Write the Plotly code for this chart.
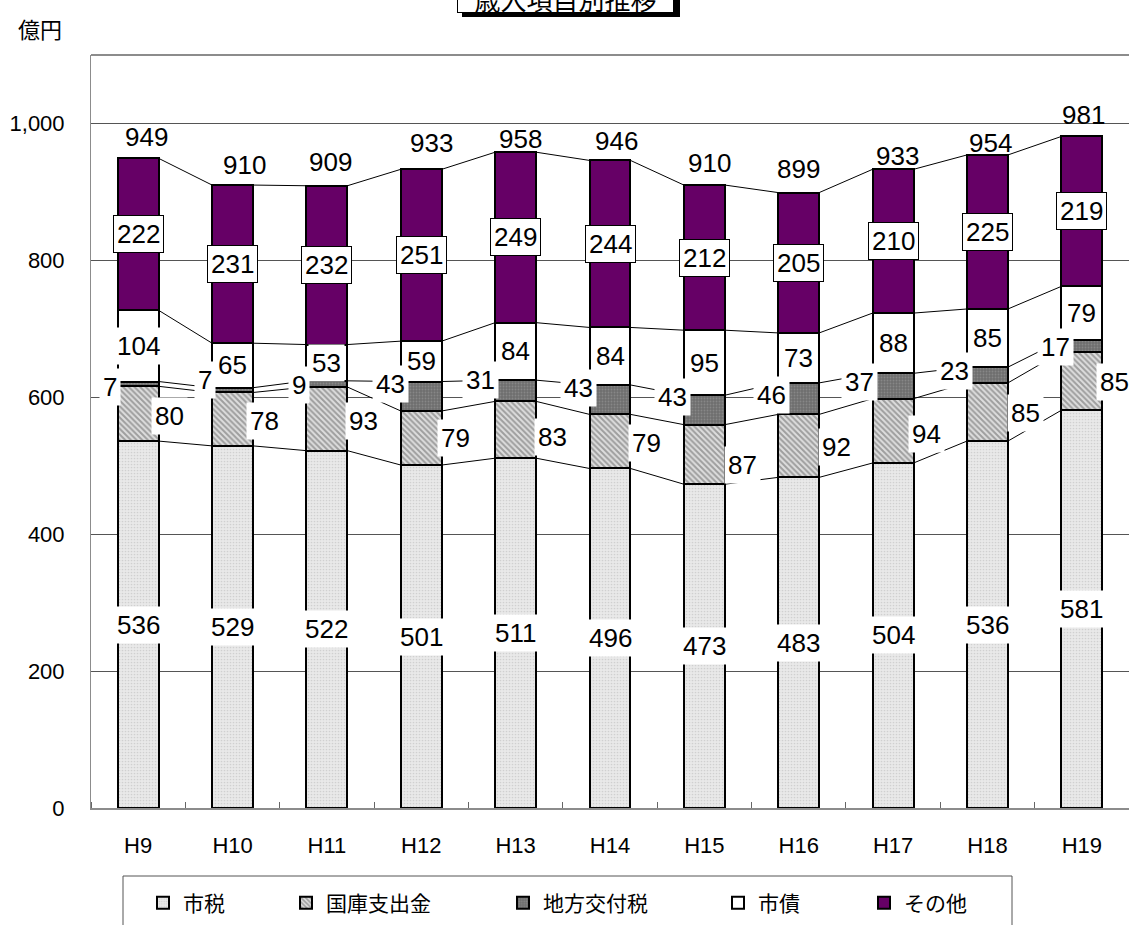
import plotly.graph_objects as go

# ---- data (億円) ----
years = ["H9", "H10", "H11", "H12", "H13", "H14", "H15", "H16", "H17", "H18", "H19"]
shizei = [536, 529, 522, 501, 511, 496, 473, 483, 504, 536, 581]      # 市税
kokko = [80, 78, 93, 79, 83, 79, 87, 92, 94, 85, 85]                  # 国庫支出金
kofuzei = [7, 7, 9, 43, 31, 43, 43, 46, 37, 23, 17]                   # 地方交付税
shisai = [104, 65, 53, 59, 84, 84, 95, 73, 88, 85, 79]                # 市債
sonota = [222, 231, 232, 251, 249, 244, 212, 205, 210, 225, 219]      # その他
totals = [949, 910, 909, 933, 958, 946, 910, 899, 933, 954, 981]      # 合計
y_ticks = [0, 200, 400, 600, 800, 1000]

# ---- hand-placed label anchors (category index, 億円) ----
kokko_lbl_x = [0.33, 1.335, 2.383, 3.358, 4.386, 5.392, 6.409, 7.405, 8.358, 9.407, 10.35]
kokko_lbl_y = [572, 565, 565, 540, 542, 533, 501, 527, 547, 577, 622]
kofu_lbl_x = [-0.297, 0.71, 1.706, 2.67, 3.623, 4.67, 5.667, 6.716, 7.648, 8.655, 9.725]
kofu_lbl_y = [615, 625, 618, 620, 625, 613, 600, 603, 622, 638, 673]
total_lbl_x = [0.085, 1.123, 2.034, 3.104, 4.047, 5.064, 6.059, 7.002, 8.051, 9.036, 10.02]
total_lbl_y = [980, 940, 943, 972, 977, 975, 942, 933, 953, 971, 1013]

# ---- page geometry ----
W, H = 1129, 925
ML, MR, MT, MB = 91, 0, 55, 117
PW, PH = W - ML - MR, H - MT - MB


def paper_x(px):
    return (px - ML) / PW


def paper_y(py):
    return (H - MB - py) / PH


BAR_W = 0.434
NUM_FONT = "Liberation Sans Narrow, Arial Narrow, Liberation Sans, Arial, sans-serif"
JP_FONT = "Noto Sans CJK JP, sans-serif"
LBL_SIZE = 26

series = [
    ("市税", shizei, dict(color="#e8e8e8",
                        pattern=dict(shape=".", fgcolor="#b8b8b8", bgcolor="#e9e9e9", size=3, solidity=0.25))),
    ("国庫支出金", kokko, dict(color="#c0c0c0",
                          pattern=dict(shape="\\", fgcolor="#5e5e5e", bgcolor="#dedede", size=4, solidity=0.5))),
    ("地方交付税", kofuzei, dict(color="#777777",
                            pattern=dict(shape=".", fgcolor="#a0a0a0", bgcolor="#6e6e6e", size=3, solidity=0.3))),
    ("市債", shisai, dict(color="#ffffff")),
    ("その他", sonota, dict(color="#660066")),
]

n = len(years)
x_idx = list(range(n))
legend_names = ["legend", "legend2", "legend3", "legend4", "legend5"]
legend_sym_px = [163, 306, 523, 738, 884]

fig = go.Figure()
for k, (name, vals, mk) in enumerate(series):
    fig.add_trace(go.Bar(
        x=x_idx, y=vals, name=name, width=BAR_W,
        marker=dict(**mk, line=dict(color="black", width=2)),
        legend=legend_names[k], hoverinfo="skip",
    ))

# series lines joining the top of each stacked segment between neighbouring bars
cum = [0] * n
cum_levels = []
for _, vals, _ in series:
    cum = [c + v for c, v in zip(cum, vals)]
    cum_levels.append(cum)
    xs, ys = [], []
    for i in range(n - 1):
        xs += [i + BAR_W / 2, i + 1 - BAR_W / 2, None]
        ys += [cum[i], cum[i + 1], None]
    fig.add_trace(go.Scatter(x=xs, y=ys, mode="lines", line=dict(color="black", width=1),
                             showlegend=False, hoverinfo="skip"))

ann = []


def label(x, y, text, box=False, bg="white"):
    ann.append(dict(
        x=x, y=y, xref="x", yref="y", text=str(text), showarrow=False,
        font=dict(family=NUM_FONT, size=LBL_SIZE, color="black"),
        bgcolor=bg, borderpad=3,
        bordercolor="black" if box else "rgba(0,0,0,0)", borderwidth=1,
        xanchor="center", yanchor="middle",
    ))


for i in range(n):
    label(i, shizei[i] / 2, shizei[i])
    label(kokko_lbl_x[i], kokko_lbl_y[i], kokko[i])
    label(kofu_lbl_x[i], kofu_lbl_y[i], kofuzei[i])
    label(i, cum_levels[2][i] + shisai[i] / 2, shisai[i])
    label(i, cum_levels[3][i] + sonota[i] / 2, sonota[i], box=True)
    label(total_lbl_x[i], total_lbl_y[i], totals[i], bg="rgba(0,0,0,0)")

# unit caption
ann.append(dict(x=paper_x(40), y=paper_y(28), xref="paper", yref="paper", text="億円",
                showarrow=False, font=dict(family=JP_FONT, size=22, color="black"),
                xanchor="center", yanchor="middle"))

# title box (with drop shadow) at the top edge of the page
ann.append(dict(x=paper_x(565.5), y=paper_y(13), xref="paper", yref="paper",
                text="歳入項目別推移", showarrow=False,
                font=dict(family=JP_FONT, size=26, color="black"),
                xanchor="center", yanchor="bottom", width=215, height=28, valign="middle",
                bgcolor="white", bordercolor="black", borderwidth=1, borderpad=0))

shapes = [
    # title shadow
    dict(type="rect", xref="paper", yref="paper", x0=paper_x(462), x1=paper_x(680),
         y0=paper_y(17), y1=paper_y(-40), fillcolor="black", line=dict(width=0), layer="above"),
    # plot-area top border
    dict(type="line", xref="paper", yref="paper", x0=0, x1=1, y0=1, y1=1,
         line=dict(color="#8c8c8c", width=2)),
    # legend frame
    dict(type="rect", xref="paper", yref="paper", x0=paper_x(123), x1=paper_x(1012),
         y0=paper_y(960), y1=paper_y(876), line=dict(color="#555555", width=1),
         fillcolor="rgba(0,0,0,0)"),
]

layout_legends = {}
for k, lg in enumerate(legend_names):
    layout_legends[lg] = dict(
        x=(legend_sym_px[k] - 20) / W, xref="container", xanchor="left",
        y=1 - 903 / H, yref="container", yanchor="middle",
        orientation="h", bgcolor="rgba(0,0,0,0)", borderwidth=0,
        font=dict(family=JP_FONT, size=21, color="black"), itemwidth=30,
    )

fig.update_layout(
    width=W, height=H,
    margin=dict(l=ML, r=MR, t=MT, b=MB, pad=0),
    plot_bgcolor="white", paper_bgcolor="white",
    barmode="stack", bargap=0,
    annotations=ann, shapes=shapes,
    **layout_legends,
)

fig.update_xaxes(
    range=[-0.5, n - 0.5], tickmode="array", tickvals=x_idx, ticktext=years,
    ticks="", showgrid=False, zeroline=False,
    showline=True, linecolor="#8c8c8c", linewidth=2,
    tickfont=dict(family=NUM_FONT, size=22, color="black"), ticklabelstandoff=17,
    minor=dict(tick0=0.5, dtick=1, ticks="inside", ticklen=6, tickcolor="#666666", showgrid=False),
)
fig.update_yaxes(
    range=[0, 1100], tickmode="array", tickvals=y_ticks, tickformat=",",
    showgrid=True, gridcolor="#555555", gridwidth=1, zeroline=False,
    showline=True, linecolor="#8c8c8c", linewidth=1,
    ticks="", tickfont=dict(family=NUM_FONT, size=22, color="black"), ticklabelstandoff=21,
)

fig.write_html("out.html")
